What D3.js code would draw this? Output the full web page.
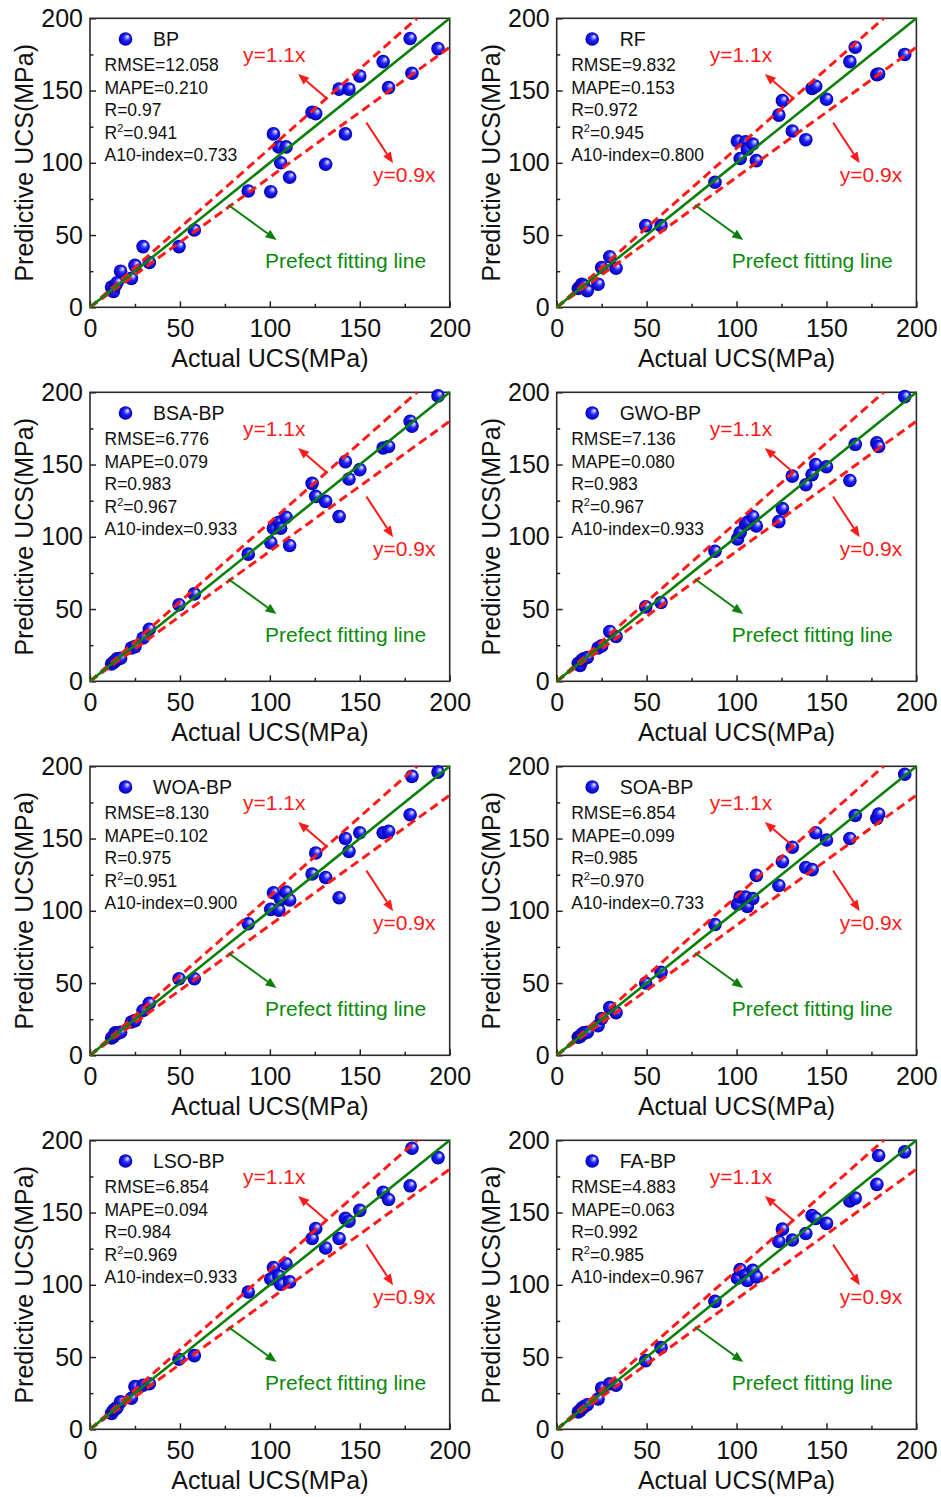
<!DOCTYPE html>
<html>
<head>
<meta charset="utf-8">
<script src="https://cdn.jsdelivr.net/npm/d3@7"></script>
<style>
  body { margin: 0; background: #fff; }
  svg { display: block; font-family: Arial, "Liberation Sans", sans-serif; }
</style>
</head>
<body>
<div id="chart"></div>
<script>
const width = 941;
const height = 1497;

// actual UCS of the 30 test samples (same for every model)
const actualUCS = [12, 13, 14, 15, 17, 23, 25, 29.5, 33, 49.5, 58, 88, 100.5, 102, 105, 106, 109, 111,
                   123.5, 125.5, 131, 138.5, 142, 144, 150, 163, 166, 178, 179, 193.5];

// predicted UCS
const predBP  = [14, 11, 15, 17, 25, 20, 29, 42, 31, 42, 53.5, 80.5, 80, 120, 111, 100, 111, 90,
                 135, 134, 99, 151, 120, 151, 160, 170, 152, 186, 162, 179];
const predRF  = [13, 14, 16, 15, 11.5, 16, 27.5, 35, 27, 56.5, 56.5, 86.5, 115, 103, 114.5, 109.5, 113, 101.5,
                 133, 143, 122, 116, 151.5, 153, 144, 170, 180, 161, 161.5, 175];
const predBSA = [12, 13, 14, 15.5, 16, 23, 24, 30, 36, 53, 60.5, 88, 96, 106, 110, 106, 113.5, 94,
                 137, 128, 124.5, 114, 152, 140, 146.5, 161.5, 162.5, 180, 176.5, 197.5];
const predGWO = [12.5, 11, 14.5, 15.5, 16.5, 23, 24.5, 34.5, 31, 51.5, 54.5, 90, 98.5, 103, 108.5, 110, 114, 107.5,
                 110.5, 119.5, 142, 136, 143, 150, 148.5, 139, 164, 165, 162.5, 197];
const predWOA = [12, 13, 15.5, 15, 16, 23, 24, 31, 36, 53, 53, 91, 101, 112.5, 100.5, 108, 113, 107.5,
                 125.5, 140, 123, 109, 150, 141, 154, 154, 155, 166.5, 193, 196];
const predSOA = [12.5, 13, 14.5, 15.5, 16, 20.5, 25.5, 33, 29.5, 50, 57.5, 90.5, 104.5, 109.5, 109.5, 103, 108.5, 124.5,
                 117.5, 134, 144, 130, 128.5, 154, 149, 150, 166, 164, 167, 194.5];
const predLSO = [11, 13, 14, 15, 19, 21.5, 29.5, 30.5, 31.5, 48.5, 51, 95, 104, 112, 106, 100.5, 114.5, 102,
                 132, 139, 125.5, 132, 146, 144, 151.5, 164, 159, 168.5, 194.5, 188];
const predFA  = [12, 13, 14.5, 15.5, 17, 21, 28.5, 31.5, 30.5, 47.5, 56.5, 88.5, 104.5, 110.5, 106.5, 103, 110, 105.5,
                 130, 138.5, 131, 135.5, 148, 146, 142.5, 158, 160, 169.5, 189.5, 192];

const models = ["BP", "RF", "BSA-BP", "GWO-BP", "WOA-BP", "SOA-BP", "LSO-BP", "FA-BP"];
const predictions = [predBP, predRF, predBSA, predGWO, predWOA, predSOA, predLSO, predFA];
const rmse = ["12.058", "9.832", "6.776", "7.136", "8.130", "6.854", "6.854", "4.883"];
const mape = ["0.210", "0.153", "0.079", "0.080", "0.102", "0.099", "0.094", "0.063"];
const rValue = ["0.97", "0.972", "0.983", "0.983", "0.975", "0.985", "0.984", "0.992"];
const r2Value = ["0.941", "0.945", "0.967", "0.967", "0.951", "0.970", "0.969", "0.985"];
const a10 = ["0.733", "0.800", "0.933", "0.933", "0.900", "0.733", "0.933", "0.967"];

const majorTicks = [0, 50, 100, 150, 200];
const minorTicks = [25, 75, 125, 175];

const colLeft = [90, 556.7];
const rowTop = [18.3, 392.3, 766.3, 1140.3];
const plotW = 359.7;
const plotH = 289;

const svg = d3.select("#chart").append("svg")
   .attr("width", width)
   .attr("height", height);

svg.append("rect").attr("width", width).attr("height", height).attr("fill", "#fff");

// shiny blue ball
const grad = svg.append("defs").append("radialGradient")
   .attr("id", "ball")
   .attr("cx", "0.5").attr("cy", "0.5").attr("r", "0.5")
   .attr("fx", "0.68").attr("fy", "0.3");
grad.append("stop").attr("offset", "0%").attr("stop-color", "#ffffff");
grad.append("stop").attr("offset", "20%").attr("stop-color", "#a0a0ff");
grad.append("stop").attr("offset", "48%").attr("stop-color", "#2222ff");
grad.append("stop").attr("offset", "100%").attr("stop-color", "#0000b0");

function arrow(g, x1, y1, x2, y2, color) {
   const ang = Math.atan2(y2 - y1, x2 - x1);
   const len = 11, half = 4.5;
   const bx = x2 - len * Math.cos(ang), by = y2 - len * Math.sin(ang);
   g.append("line")
      .attr("x1", x1).attr("y1", y1).attr("x2", bx).attr("y2", by)
      .attr("stroke", color).attr("stroke-width", 2);
   const px = -Math.sin(ang) * half, py = Math.cos(ang) * half;
   g.append("path")
      .attr("d", `M${x2},${y2}L${bx + px},${by + py}L${bx - px},${by - py}Z`)
      .attr("fill", color);
}

models.forEach((name, i) => {
   const x0 = colLeft[i % 2];
   const y0 = rowTop[Math.floor(i / 2)];
   const pred = predictions[i];

   const x = d3.scaleLinear().domain([0, 200]).range([x0, x0 + plotW]);
   const y = d3.scaleLinear().domain([0, 200]).range([y0 + plotH, y0]);

   const g = svg.append("g").attr("class", "panel");

   // minor ticks (inside)
   const xMinor = d3.axisBottom(x).tickValues(minorTicks).tickSize(-3.5).tickFormat("");
   const yMinor = d3.axisLeft(y).tickValues(minorTicks).tickSize(-3.5).tickFormat("");
   g.append("g").attr("transform", `translate(0,${y0 + plotH})`).call(xMinor);
   g.append("g").attr("transform", `translate(${x0},0)`).call(yMinor);

   const xAxis = d3.axisBottom(x).tickValues(majorTicks).tickSize(-6).tickPadding(12);
   const yAxis = d3.axisLeft(y).tickValues(majorTicks).tickSize(-6).tickPadding(7);
   g.append("g").attr("class", "xAxis").attr("transform", `translate(0,${y0 + plotH})`).call(xAxis);
   g.append("g").attr("class", "yAxis").attr("transform", `translate(${x0},0)`).call(yAxis);

   g.selectAll(".domain").remove();
   g.selectAll(".tick line").attr("stroke", "#222").attr("stroke-width", 1.5);
   g.selectAll(".tick text").attr("fill", "#111").style("font-size", "25px")
      .style("font-family", 'Arial, "Liberation Sans", sans-serif');

   // frame
   g.append("rect")
      .attr("x", x0).attr("y", y0).attr("width", plotW).attr("height", plotH)
      .attr("fill", "none").attr("stroke", "#2a2a2a").attr("stroke-width", 1.6);

   // axis titles
   g.append("text")
      .attr("x", x0 + plotW / 2).attr("y", y0 + plotH + 60)
      .attr("text-anchor", "middle").style("font-size", "25px").attr("fill", "#111")
      .text("Actual UCS(MPa)");
   g.append("text")
      .attr("transform", `translate(${x0 - 57},${y0 + plotH / 2}) rotate(-90)`)
      .attr("text-anchor", "middle").style("font-size", "25px").attr("fill", "#111")
      .text("Predictive UCS(MPa)");

   // points
   g.selectAll("circle.pt")
      .data(actualUCS.map((a, k) => ({ a: a, p: pred[k] })))
      .enter()
      .append("circle")
      .attr("class", "pt")
      .attr("cx", d => x(d.a))
      .attr("cy", d => y(d.p))
      .attr("r", 6.8)
      .attr("fill", "url(#ball)");

   // reference lines
   g.append("line")
      .attr("x1", x(0)).attr("y1", y(0)).attr("x2", x(200 / 1.1)).attr("y2", y(200))
      .attr("stroke", "#ff1a1a").attr("stroke-width", 3).attr("stroke-dasharray", "9,5");
   g.append("line")
      .attr("x1", x(0)).attr("y1", y(0)).attr("x2", x(200)).attr("y2", y(180))
      .attr("stroke", "#ff1a1a").attr("stroke-width", 3).attr("stroke-dasharray", "9,5");
   g.append("line")
      .attr("x1", x(0)).attr("y1", y(0)).attr("x2", x(200)).attr("y2", y(200))
      .attr("stroke", "#0a800a").attr("stroke-width", 2.6);

   // legend
   g.append("circle")
      .attr("cx", x0 + 35.5).attr("cy", y0 + 20.7).attr("r", 6.8).attr("fill", "url(#ball)");
   g.append("text")
      .attr("x", x0 + 63).attr("y", y0 + 28)
      .style("font-size", "19.5px").attr("fill", "#111")
      .text(name);

   // stats
   const statX = x0 + 14.5;
   const lines = [`RMSE=${rmse[i]}`, `MAPE=${mape[i]}`, `R=${rValue[i]}`, null, `A10-index=${a10[i]}`];
   lines.forEach((t, k) => {
      const txt = g.append("text")
         .attr("x", statX).attr("y", y0 + 53 + k * 22.5)
         .style("font-size", "17.5px").attr("fill", "#111");
      if (t) {
         txt.text(t);
      } else {
         txt.append("tspan").text("R");
         txt.append("tspan").attr("dy", -7).style("font-size", "11px").text("2");
         txt.append("tspan").attr("dy", 7).text(`=${r2Value[i]}`);
      }
   });

   // annotations
   g.append("text")
      .attr("x", x0 + 153).attr("y", y0 + 44)
      .style("font-size", "21px").attr("fill", "#ff1a1a")
      .text("y=1.1x");
   arrow(g, x(131.5), y(144.6), x(115.7), y(161.5), "#ff1a1a");

   g.append("text")
      .attr("x", x0 + 283).attr("y", y0 + 164)
      .style("font-size", "21px").attr("fill", "#ff1a1a")
      .text("y=0.9x");
   arrow(g, x(153.7), y(127.8), x(168.5), y(99.7), "#ff1a1a");

   g.append("text")
      .attr("x", x0 + 175).attr("y", y0 + 249.5)
      .style("font-size", "21px").attr("fill", "#0a8a0a")
      .text("Prefect fitting line");
   arrow(g, x(76.9), y(70.8), x(103.7), y(46.6), "#0a800a");
});
</script>
</body>
</html>
